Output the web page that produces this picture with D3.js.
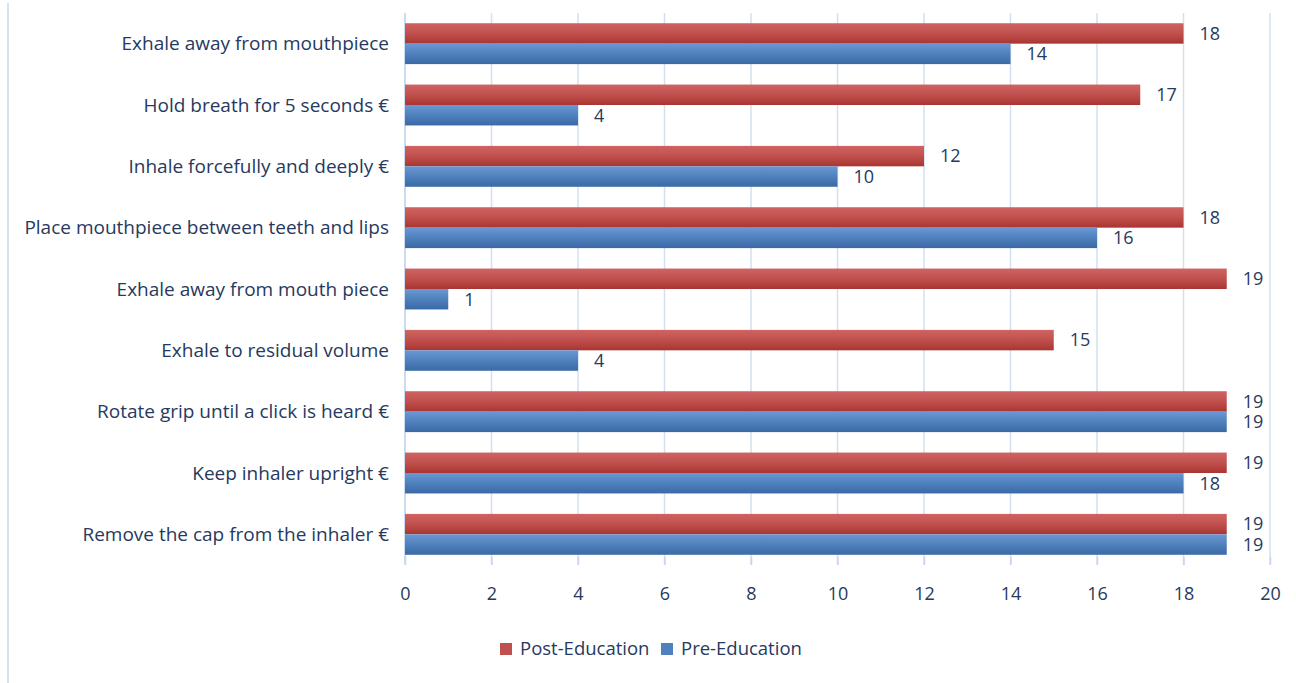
<!DOCTYPE html>
<meta charset="utf-8">
<html>
<head>
<title>Inhaler technique</title>
<style>
  body { margin: 0; background: #fff; }
  svg { display: block; font-family: "Open Sans", sans-serif; }
</style>
</head>
<body>
<div id="chart"></div>
<script src="https://d3js.org/d3.v7.min.js"></script>
<script>
// categories, top to bottom as in the picture
var steps = [
  "Exhale away from mouthpiece",
  "Hold breath for 5 seconds €",
  "Inhale forcefully and deeply €",
  "Place mouthpiece between teeth and lips",
  "Exhale away from mouth piece",
  "Exhale to residual volume",
  "Rotate grip until a click is heard €",
  "Keep inhaler upright €",
  "Remove the cap from the inhaler €"
];
var postEducation = [18, 17, 12, 18, 19, 15, 19, 19, 19];
var preEducation  = [14, 4, 10, 16, 1, 4, 19, 18, 19];
var seriesNames = ["Post-Education", "Pre-Education"];
var xTicks = [0, 2, 4, 6, 8, 10, 12, 14, 16, 18, 20];

var width = 1296, height = 683;
var textColor = "#27395e";

var svg = d3.select("#chart").append("svg")
  .attr("width", width)
  .attr("height", height);

// gradients for the Excel look
var defs = svg.append("defs");
function grad(id, top, mid, bottom) {
  var g = defs.append("linearGradient").attr("id", id)
    .attr("x1", 0).attr("y1", 0).attr("x2", 0).attr("y2", 1);
  g.append("stop").attr("offset", "0%").attr("stop-color", top);
  g.append("stop").attr("offset", "50%").attr("stop-color", mid);
  g.append("stop").attr("offset", "100%").attr("stop-color", bottom);
}
grad("gPost", "#cf6462", "#c0504d", "#a93532");
grad("gPre", "#6a98d4", "#4f81bd", "#3b6aa6");
var fills = ["url(#gPost)", "url(#gPre)"];
var swatch = ["#c0504d", "#4f81bd"];

// left chart border
svg.append("line")
  .attr("x1", 8).attr("x2", 8).attr("y1", 3).attr("y2", height)
  .attr("stroke", "#d6e2f3").attr("stroke-width", 2);

var x = d3.scaleLinear().domain([0, 20]).range([405, 1270]);
var y = d3.scaleBand().domain(steps).range([13, 565])
  .paddingInner(1 / 3).paddingOuter(1 / 6);
var ySub = d3.scaleBand().domain(seriesNames).range([0, y.bandwidth()]);

// gridlines
svg.append("g").selectAll("line")
  .data(xTicks)
  .join("line")
  .attr("x1", d => x(d)).attr("x2", d => x(d))
  .attr("y1", 13).attr("y2", 565)
  .attr("stroke", "#d3e0f1").attr("stroke-width", 1.5);

// axis: ticks and labels
var xAxis = svg.append("g")
  .attr("transform", "translate(0,557)")
  .call(d3.axisBottom(x).tickValues(xTicks).tickSize(8).tickPadding(22));
xAxis.select(".domain").remove();
xAxis.selectAll(".tick line").attr("stroke", "#c6d7ee").attr("stroke-width", 1.5);
xAxis.selectAll("text")
  .attr("fill", textColor)
  .style("font-size", "18px")
  .style("font-family", "Open Sans, sans-serif");

// vertical axis line
svg.append("line")
  .attr("x1", x(0)).attr("x2", x(0)).attr("y1", 13).attr("y2", 565)
  .attr("stroke", "#c6d7ee").attr("stroke-width", 1.5);

// category labels
svg.append("g").selectAll("text")
  .data(steps)
  .join("text")
  .attr("x", 389)
  .attr("y", d => y(d) + y.bandwidth() / 2)
  .attr("dy", "0.35em")
  .attr("text-anchor", "end")
  .attr("fill", textColor)
  .style("font-size", "19px")
  .text(d => d);

var rows = steps.map(function (s, i) {
  return { step: s, values: [postEducation[i], preEducation[i]] };
});

var groups = svg.append("g").selectAll("g")
  .data(rows)
  .join("g")
  .attr("transform", d => "translate(0," + y(d.step) + ")");

groups.selectAll("rect")
  .data(d => d.values.map((v, j) => ({ v: v, j: j })))
  .join("rect")
  .attr("x", x(0))
  .attr("y", d => ySub(seriesNames[d.j]))
  .attr("width", d => x(d.v) - x(0))
  .attr("height", ySub.bandwidth())
  .attr("fill", d => fills[d.j]);

groups.selectAll("text")
  .data(d => d.values.map((v, j) => ({ v: v, j: j })))
  .join("text")
  .attr("x", d => x(d.v) + 16)
  .attr("y", d => ySub(seriesNames[d.j]) + ySub.bandwidth() / 2)
  .attr("dy", "0.35em")
  .attr("fill", textColor)
  .style("font-size", "18px")
  .text(d => d.v);

// legend
var legend = svg.append("g").attr("transform", "translate(500,649)");
var lx = [0, 161];
seriesNames.forEach(function (name, i) {
  legend.append("rect")
    .attr("x", lx[i]).attr("y", -6)
    .attr("width", 12).attr("height", 12)
    .attr("fill", swatch[i]);
  legend.append("text")
    .attr("x", lx[i] + 20).attr("y", 0)
    .attr("dy", "0.35em")
    .attr("fill", textColor)
    .style("font-size", "18.5px")
    .text(name);
});
</script>
</body>
</html>
